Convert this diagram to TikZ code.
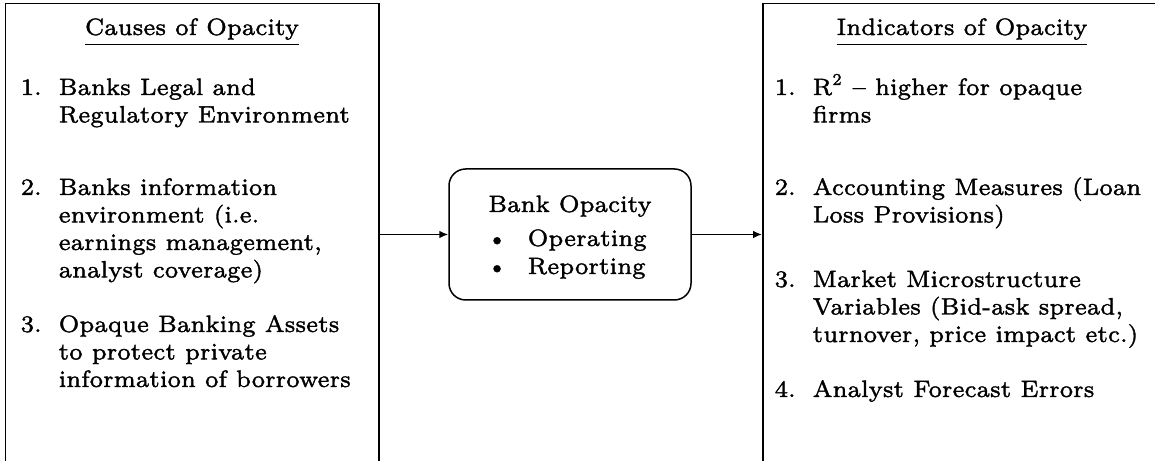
\documentclass[tikz,border=0pt]{standalone}
\usepackage{fontspec}
\setmainfont{lmroman7-regular}[Extension=.otf,FakeBold=1.5]
\usetikzlibrary{arrows.meta}
\newlength\pxu
\setlength\pxu{0.3pt}
\begin{document}
\begin{tikzpicture}[x=0.3pt,y=-0.3pt,
  txt/.style={inner sep=0pt, anchor=base west, font=\fontsize{7.1}{8.25}\selectfont},
  ttl/.style={inner sep=0pt, anchor=base, font=\fontsize{7.1}{8.25}\selectfont},
  bigbox/.style={draw, line width=0.45pt, anchor=north west, inner sep=0pt, minimum height=600*\pxu},
  midbox/.style={draw, line width=0.45pt, rounded corners=5pt, minimum width=242*\pxu, minimum height=131*\pxu, inner sep=0pt},
  arr/.style={-{Latex[length=2.7pt,width=2.3pt]}, line width=0.45pt}]
\useasboundingbox (0,0) rectangle (1155,461);
\clip (0,0) rectangle (1155,461);
\node[bigbox, minimum width=373*\pxu] (causes) at (5,3) {};
\node[bigbox, minimum width=400*\pxu] (indic) at (762,3) {};
\node[midbox] (mid) at (570,234.5) {};
\draw[arr] (causes.east |- mid.west) -- (mid.west);
\draw[arr] (mid.east) -- (indic.west |- mid.east);
% titles
\node[ttl] (t1) at (192,35) {\underline{Causes of Opacity}};
\node[ttl] (t2) at (962,35) {\underline{Indicators of Opacity}};
% left items
\node[txt] (ln1) at (20,95) {1.};
\node[txt] (li1) at (58,95) {\begin{tabular}[t]{@{}l@{}}Banks Legal and\\Regulatory Environment\end{tabular}};
\node[txt] (ln2) at (20,195) {2.};
\node[txt] (li2) at (58,195) {\begin{tabular}[t]{@{}l@{}}Banks information\\environment (i.e.\\earnings management,\\analyst coverage)\end{tabular}};
\node[txt] (ln3) at (20,332) {3.};
\node[txt] (li3) at (58,332) {\begin{tabular}[t]{@{}l@{}}Opaque Banking Assets\\to protect private\\information of borrowers\end{tabular}};
% middle
\node[ttl] (mt) at (570,212) {Bank Opacity};
\node[txt] (mb1) at (486,246) {\textbullet};
\node[txt] (mo) at (527,246) {Operating};
\node[txt] (mb2) at (486,274) {\textbullet};
\node[txt] (mr) at (527,274) {Reporting};
% right items
\node[txt] (rn1) at (774,95) {1.};
\node[txt] (ri1) at (812,95) {\begin{tabular}[t]{@{}l@{}}R\textsuperscript{2} -- higher for opaque\\firms\end{tabular}};
\node[txt] (rn2) at (774,195) {2.};
\node[txt] (ri2) at (812,195) {\begin{tabular}[t]{@{}l@{}}Accounting Measures (Loan\\Loss Provisions)\end{tabular}};
\node[txt] (rn3) at (774,287) {3.};
\node[txt] (ri3) at (812,287) {\begin{tabular}[t]{@{}l@{}}Market Microstructure\\Variables (Bid-ask spread,\\turnover, price impact etc.)\end{tabular}};
\node[txt] (rn4) at (774,397) {4.};
\node[txt] (ri4) at (812,397) {Analyst Forecast Errors};
\end{tikzpicture}
\end{document}
